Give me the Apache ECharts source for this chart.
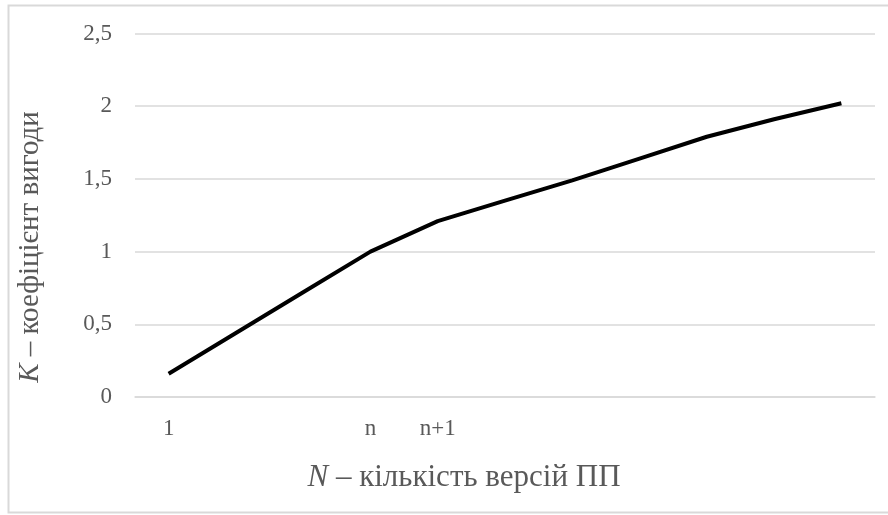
<!DOCTYPE html>
<html>
<head>
<meta charset="utf-8">
<script src="https://cdn.jsdelivr.net/npm/echarts@6/dist/echarts.min.js"></script>
<style>
  html, body { margin: 0; padding: 0; background: #ffffff; }
  #chart { width: 888px; height: 515px; }
</style>
</head>
<body>
<div id="chart"></div>
<script>
  // categories: only 1, n and n+1 are labelled
  var categories = ['1', '', '', 'n', 'n+1', '', '', '', '', '', '']
  var kValues = [0.16, 0.44, 0.72, 1.0, 1.21, 1.35, 1.49, 1.64, 1.79, 1.91, 2.02]
  var yTicks = [0, 0.5, 1, 1.5, 2, 2.5]

  var textColor = '#595959'
  var gridColor = '#d9d9d9'
  var serif = '"Liberation Serif", "DejaVu Serif", serif'

  var chart = echarts.init(document.getElementById('chart'))

  chart.setOption({
    animation: false,
    grid: {
      left: 135,
      right: 13,
      top: 33.5,
      bottom: 118
    },
    xAxis: {
      type: 'category',
      data: categories,
      boundaryGap: true,
      axisTick: { show: false },
      axisLine: { show: true, lineStyle: { color: gridColor, width: 1.5 } },
      axisLabel: {
        interval: 0,
        margin: 20,
        color: textColor,
        fontFamily: serif,
        fontSize: 23
      }
    },
    yAxis: {
      type: 'value',
      min: yTicks[0],
      max: yTicks[yTicks.length - 1],
      interval: 0.5,
      axisLine: { show: false },
      axisTick: { show: false },
      splitLine: { lineStyle: { color: gridColor, width: 1.5 } },
      axisLabel: {
        margin: 23,
        color: textColor,
        fontFamily: serif,
        fontSize: 23,
        formatter: function (v) { return String(v).replace('.', ',') }
      }
    },
    series: [
      {
        name: 'K',
        type: 'line',
        data: kValues,
        symbol: 'none',
        lineStyle: { color: '#000000', width: 4 }
      }
    ],
    graphic: [
      {
        type: 'rect',
        silent: true,
        shape: { x: 8.5, y: 5.5, width: 900, height: 507 },
        style: { fill: 'none', stroke: gridColor, lineWidth: 2 }
      },
      {
        type: 'text',
        x: 30,
        y: 247,
        rotation: Math.PI / 2,
        style: {
          text: '{i|K} – коефіцієнт вигоди',
          fill: textColor,
          font: '29px ' + serif,
          align: 'center',
          verticalAlign: 'middle',
          rich: {
            i: { fontStyle: 'italic', fontSize: 29, fontFamily: serif, fill: textColor }
          }
        }
      },
      {
        type: 'text',
        x: 464,
        y: 478,
        style: {
          text: '{i|N} – кількість версій ПП',
          fill: textColor,
          font: '31px ' + serif,
          align: 'center',
          verticalAlign: 'middle',
          rich: {
            i: { fontStyle: 'italic', fontSize: 31, fontFamily: serif, fill: textColor }
          }
        }
      }
    ]
  })
</script>
</body>
</html>
